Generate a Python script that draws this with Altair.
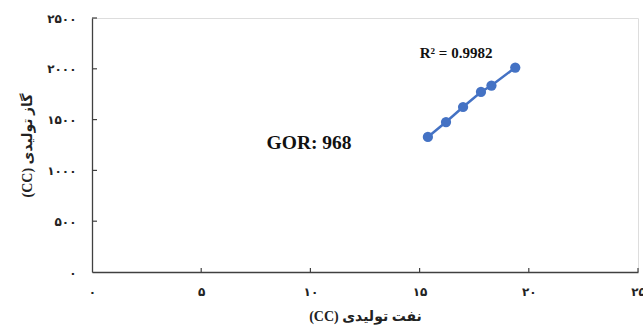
import altair as alt
import pandas as pd

# Data
oil = [15.38, 16.21, 16.99, 17.81, 18.29, 19.38]
gas = [1329, 1476, 1624, 1772, 1835, 2012]

x_ticks = [0, 5, 10, 15, 20, 25]
x_labels = ["۰", "۵", "۱۰", "۱۵", "۲۰", "۲۵"]
y_ticks = [0, 500, 1000, 1500, 2000, 2500]
y_labels = ["۰", "۵۰۰", "۱۰۰۰", "۱۵۰۰", "۲۰۰۰", "۲۵۰۰"]

# right-to-left embedding so "(CC)" sits at the left as in the reference
x_title = "\u202bنفت تولیدی (CC)\u202c"
y_title = "\u202bگاز تولیدی (CC)\u202c"
r2_text = "R² = 0.9982"
gor_text = "GOR: 968"

BLUE = "#4472C4"
FONT = "Liberation Serif, DejaVu Sans"
W, H = 546, 254


def label_expr(ticks, labels):
    expr = "''"
    for t, l in reversed(list(zip(ticks, labels))):
        expr = f"datum.value == {t} ? '{l}' : ({expr})"
    return expr


df = pd.DataFrame({"oil": oil, "gas": gas})

xscale = alt.Scale(domain=[0, 25], nice=False, zero=True)
yscale = alt.Scale(domain=[0, 2500], nice=False, zero=True)

xaxis = alt.Axis(
    values=x_ticks, labelExpr=label_expr(x_ticks, x_labels), title=x_title,
    grid=False, ticks=False, domainColor="#404040", domainWidth=1.3,
    labelFont=FONT, labelFontSize=12, labelFontWeight="bold", labelColor="#222",
    labelPadding=14, titleFont=FONT, titleFontSize=14, titleFontWeight="bold",
    titleColor="#222", titlePadding=12, labelFlush=False, labelOverlap=False,
)
yaxis = alt.Axis(
    values=y_ticks, labelExpr=label_expr(y_ticks, y_labels), title=y_title,
    grid=False, ticks=False, domainColor="#404040", domainWidth=1.3,
    labelFont=FONT, labelFontSize=12, labelFontWeight="bold", labelColor="#222",
    labelPadding=16, titleFont=FONT, titleFontSize=14, titleFontWeight="bold",
    titleColor="#222", titlePadding=12, labelFlush=False, labelOverlap=False,
)

base = alt.Chart(df)

line = base.mark_line(color=BLUE, strokeWidth=2.5).encode(
    x=alt.X("oil:Q", scale=xscale, axis=xaxis),
    y=alt.Y("gas:Q", scale=yscale, axis=yaxis),
)
points = base.mark_circle(color=BLUE, size=105, opacity=1).encode(
    x=alt.X("oil:Q", scale=xscale),
    y=alt.Y("gas:Q", scale=yscale),
)

# inward ticks
xt = pd.DataFrame({"v": x_ticks[1:]})
xtick = alt.Chart(xt).mark_rule(color="#404040", strokeWidth=1.2).encode(
    x=alt.X("v:Q", scale=xscale), y=alt.value(H), y2=alt.value(H - 4)
)
yt = pd.DataFrame({"v": y_ticks[1:]})
ytick = alt.Chart(yt).mark_rule(color="#404040", strokeWidth=1.2).encode(
    y=alt.Y("v:Q", scale=yscale), x=alt.value(0), x2=alt.value(5)
)

ann = pd.DataFrame({"x": [16.67, 9.94], "y": [2160, 1270], "t": [r2_text, gor_text],
                    "s": [15, 19.5]})
texts = alt.Chart(ann).mark_text(font="Liberation Serif", fontWeight="bold", color="#111").encode(
    x=alt.X("x:Q", scale=xscale),
    y=alt.Y("y:Q", scale=yscale),
    text="t:N",
    size=alt.Size("s:Q", scale=None, legend=None),
)

chart = alt.layer(xtick, ytick, line, points, texts).properties(
    width=W, height=H,
    autosize=alt.AutoSizeParams(type="none"),
    padding={"left": 92, "top": 18, "right": 5, "bottom": 55},
).configure_view(stroke=None).configure(background="white")

chart.save("out.html", embed_options={"renderer": "svg", "actions": False})
